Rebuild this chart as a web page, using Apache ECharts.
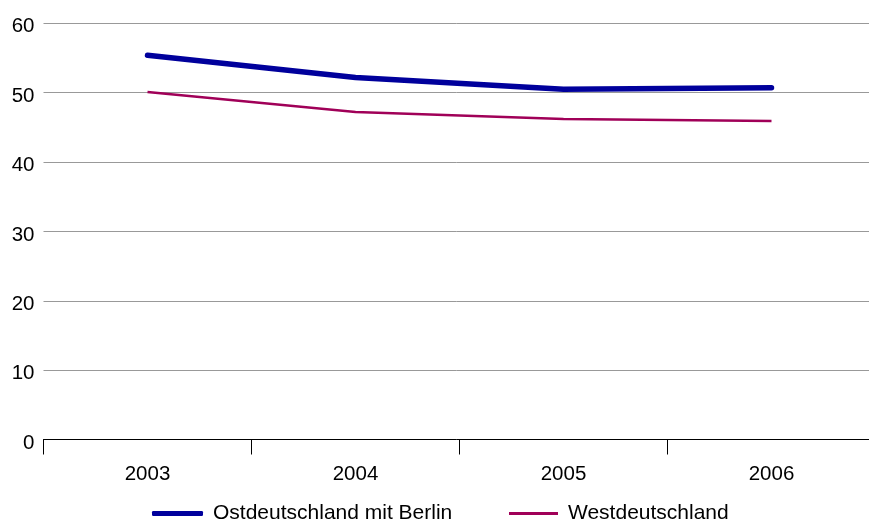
<!DOCTYPE html>
<html><head><meta charset="utf-8">
<script src="https://cdn.jsdelivr.net/npm/echarts@6/dist/echarts.min.js"></script>
<style>html,body{margin:0;padding:0;background:#fff}#c{width:869px;height:522px}</style>
</head><body><div id="c"></div>
<script>
const categories = ['2003', '2004', '2005', '2006'];
const ost = [55.4, 52.2, 50.5, 50.7];
const west = [50.1, 47.2, 46.2, 45.9];
const yTicks = [0, 10, 20, 30, 40, 50, 60];
const seriesNames = ['Ostdeutschland mit Berlin', 'Westdeutschland'];
const colors = ['#00009c', '#a00058'];

const chart = echarts.init(document.getElementById('c'), null, {renderer: 'canvas'});
const font = 'Liberation Sans, Arial, sans-serif';
const legendText = {fontFamily: font, fontSize: 21, color: '#000', padding: [0, 0, 0, 5]};
chart.setOption({
  animation: false,
  grid: {left: 43.5, top: 23.3, right: -6.5, bottom: 82.5, containLabel: false, outerBoundsMode: 'none'},
  legend: [
    {top: 503, left: 152, itemWidth: 51, itemHeight: 5, itemGap: 10, padding: 0,
     textStyle: legendText,
     data: [{name: seriesNames[0], icon: 'roundRect', itemStyle: {color: colors[0]}}]},
    {top: 503, left: 509, itemWidth: 49, itemHeight: 3, itemGap: 10, padding: 0,
     textStyle: legendText,
     data: [{name: seriesNames[1], icon: 'rect', itemStyle: {color: colors[1]}}]}
  ],
  xAxis: {
    type: 'category', data: categories, boundaryGap: true,
    axisLine: {lineStyle: {color: '#000', width: 1}},
    axisTick: {show: true, length: 15, inside: false, lineStyle: {color: '#000'}},
    axisLabel: {fontFamily: font, fontSize: 20.5, color: '#000', margin: 24}
  },
  yAxis: {
    type: 'value', min: yTicks[0], max: yTicks[yTicks.length - 1], interval: 10,
    axisLine: {show: false}, axisTick: {show: false},
    splitLine: {lineStyle: {color: '#999', width: 1}},
    axisLabel: {
      fontFamily: font, fontSize: 20.5, color: '#000', margin: 9,
      formatter: '{a|{value}}',
      rich: {a: {fontFamily: font, fontSize: 20.5, color: '#000', padding: [7, 0, 0, 0]}}
    }
  },
  series: [
    {name: seriesNames[0], type: 'line', data: ost, symbol: 'none',
     lineStyle: {color: colors[0], width: 5.5, cap: 'round'}, itemStyle: {color: colors[0]}},
    {name: seriesNames[1], type: 'line', data: west, symbol: 'none',
     lineStyle: {color: colors[1], width: 2.5}, itemStyle: {color: colors[1]}}
  ]
});
</script></body></html>
